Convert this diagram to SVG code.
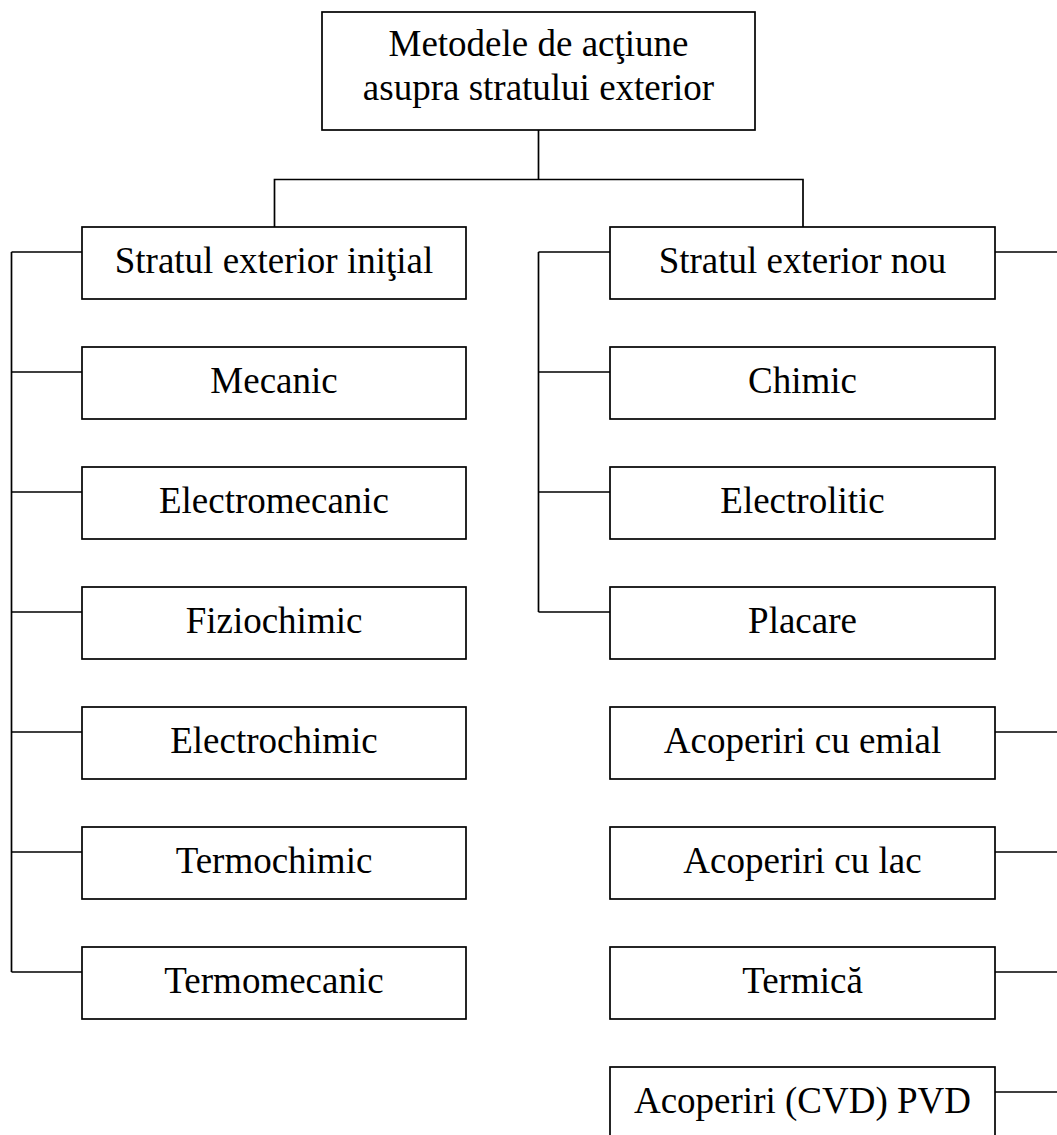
<svg xmlns="http://www.w3.org/2000/svg" width="1057" height="1135" viewBox="0 0 1057 1135">
<style>
.box{fill:#fff;stroke:#000;stroke-width:1.7}
.ln{fill:none;stroke:#000;stroke-width:1.7}
text{font-family:"Liberation Serif","Times New Roman",serif;font-size:37px;fill:#000;text-anchor:middle}
</style>
<rect width="1057" height="1135" fill="#fff"/>
<g id="connectors" class="ln">
<path d="M538.5,130 V179.5 M274.5,227 V179.5 H803 V227"/>
<path d="M11.5,252 V972 M11.5,252 H82 M11.5,372 H82 M11.5,492 H82 M11.5,612 H82 M11.5,732 H82 M11.5,852 H82 M11.5,972 H82"/>
<path d="M538.5,252 V612 M538.5,252 H610 M538.5,372 H610 M538.5,492 H610 M538.5,612 H610"/>
<path d="M995,252 H1057 M995,732 H1057 M995,852 H1057 M995,972 H1057 M995,1092 H1057"/>
</g>
<g id="root"><rect class="box" x="322" y="12" width="433" height="118"/><text x="538.5" y="56">Metodele de acţiune</text><text x="538.5" y="100">asupra stratului exterior</text></g>
<g id="n-initial"><rect class="box" x="82" y="227" width="384" height="72"/><text x="274" y="273">Stratul exterior iniţial</text></g>
<g id="n-mecanic"><rect class="box" x="82" y="347" width="384" height="72"/><text x="274" y="393">Mecanic</text></g>
<g id="n-electromecanic"><rect class="box" x="82" y="467" width="384" height="72"/><text x="274" y="513">Electromecanic</text></g>
<g id="n-fiziochimic"><rect class="box" x="82" y="587" width="384" height="72"/><text x="274" y="633">Fiziochimic</text></g>
<g id="n-electrochimic"><rect class="box" x="82" y="707" width="384" height="72"/><text x="274" y="753">Electrochimic</text></g>
<g id="n-termochimic"><rect class="box" x="82" y="827" width="384" height="72"/><text x="274" y="873">Termochimic</text></g>
<g id="n-termomecanic"><rect class="box" x="82" y="947" width="384" height="72"/><text x="274" y="993">Termomecanic</text></g>
<g id="n-nou"><rect class="box" x="610" y="227" width="385" height="72"/><text x="802.5" y="273">Stratul exterior nou</text></g>
<g id="n-chimic"><rect class="box" x="610" y="347" width="385" height="72"/><text x="802.5" y="393">Chimic</text></g>
<g id="n-electrolitic"><rect class="box" x="610" y="467" width="385" height="72"/><text x="802.5" y="513">Electrolitic</text></g>
<g id="n-placare"><rect class="box" x="610" y="587" width="385" height="72"/><text x="802.5" y="633">Placare</text></g>
<g id="n-emial"><rect class="box" x="610" y="707" width="385" height="72"/><text x="802.5" y="753">Acoperiri cu emial</text></g>
<g id="n-lac"><rect class="box" x="610" y="827" width="385" height="72"/><text x="802.5" y="873">Acoperiri cu lac</text></g>
<g id="n-termica"><rect class="box" x="610" y="947" width="385" height="72"/><text x="802.5" y="993">Termică</text></g>
<g id="n-pvd"><rect class="box" x="610" y="1067" width="385" height="72"/><text x="802.5" y="1113">Acoperiri (CVD) PVD</text></g>
</svg>
